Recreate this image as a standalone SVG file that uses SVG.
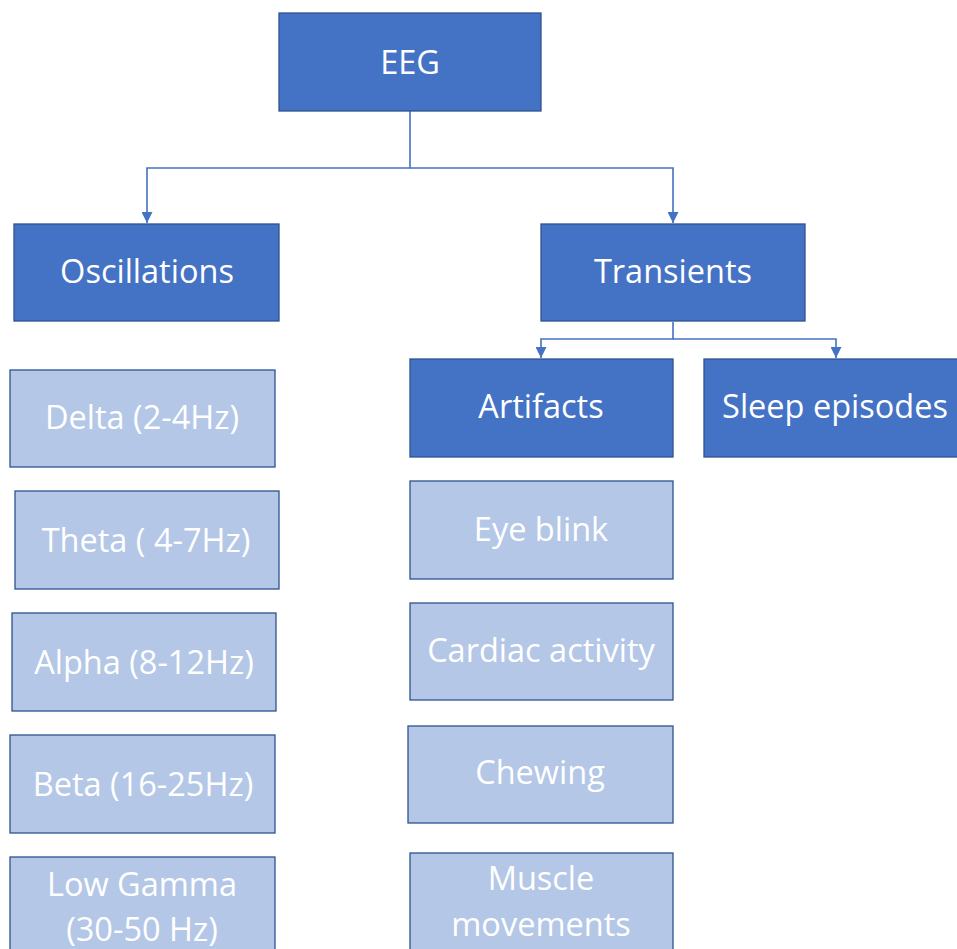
<svg xmlns="http://www.w3.org/2000/svg" width="957" height="949" viewBox="0 0 957 949">
<defs>
<style>
.dark{fill:#4472C4;stroke:#2F528F;stroke-width:1.3}
.light{fill:#B4C7E7;stroke:#2F528F;stroke-width:1.3}
text{font-family:"Open Sans","Noto Sans","DejaVu Sans",sans-serif;font-size:32.5px;fill:#FFFFFF;text-anchor:middle}
.conn{fill:none;stroke:#4472C4;stroke-width:1.6}
</style>
<marker id="arr" viewBox="0 0 10 10" refX="10" refY="5" markerWidth="11" markerHeight="11" markerUnits="userSpaceOnUse" orient="auto">
<path d="M0,0 L10,5 L0,10 z" fill="#4472C4"/>
</marker>
</defs>
<rect width="957" height="949" fill="#FFFFFF"/>
<g id="connectors">
<path class="conn" d="M410,111 V168 H147 V223" marker-end="url(#arr)"/>
<path class="conn" d="M410,168 H673 V223" marker-end="url(#arr)"/>
<path class="conn" d="M673,322 V339 H541 V358" marker-end="url(#arr)"/>
<path class="conn" d="M673,339 H836 V358" marker-end="url(#arr)"/>
</g>
<g id="eeg"><rect class="dark" x="279" y="13" width="262" height="98"/><text x="410" y="74">EEG</text></g>
<g id="oscillations"><rect class="dark" x="14" y="224" width="265" height="97"/><text x="147" y="283">Oscillations</text></g>
<g id="transients"><rect class="dark" x="541" y="224" width="264" height="97"/><text x="673" y="283">Transients</text></g>
<g id="artifacts"><rect class="dark" x="410" y="359" width="263" height="98"/><text x="541" y="418">Artifacts</text></g>
<g id="sleep"><rect class="dark" x="704" y="359" width="256" height="98"/><text x="835" y="418">Sleep episodes</text></g>
<g id="delta"><rect class="light" x="10" y="370" width="265" height="97"/><text x="142" y="429">Delta (2-4Hz)</text></g>
<g id="theta"><rect class="light" x="15" y="491" width="264" height="98"/><text x="146" y="552">Theta ( 4-7Hz)</text></g>
<g id="alpha"><rect class="light" x="12" y="613" width="264" height="98"/><text x="144" y="674">Alpha (8-12Hz)</text></g>
<g id="beta"><rect class="light" x="10" y="735" width="265" height="98"/><text x="143" y="796">Beta (16-25Hz)</text></g>
<g id="lowgamma"><rect class="light" x="10" y="857" width="265" height="100"/><text x="142" y="896">Low Gamma</text><text x="142" y="941">(30-50 Hz)</text></g>
<g id="eyeblink"><rect class="light" x="410" y="481" width="263" height="98"/><text x="541" y="541">Eye blink</text></g>
<g id="cardiac"><rect class="light" x="410" y="603" width="263" height="97"/><text x="541" y="662">Cardiac activity</text></g>
<g id="chewing"><rect class="light" x="408" y="726" width="265" height="97"/><text x="540" y="784">Chewing</text></g>
<g id="muscle"><rect class="light" x="410" y="853" width="263" height="100"/><text x="541" y="890">Muscle</text><text x="541" y="936">movements</text></g>
</svg>
